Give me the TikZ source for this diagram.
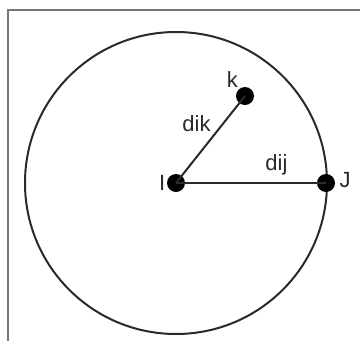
\documentclass[tikz,border=0pt]{standalone}
\usepackage{fontspec}
\setmainfont{Liberation Sans}
\usepackage{tikz}
\usetikzlibrary{positioning}
\definecolor{framegray}{HTML}{777777}
\definecolor{inkgray}{HTML}{2A2A2A}

\begin{document}
\begin{tikzpicture}[
x=1pt, y=-1pt,
every node/.style={font=\fontsize{22}{26}\selectfont, text=inkgray},
dot/.style={circle, fill=black, inner sep=0pt, minimum size=18pt},
link/.style={draw=inkgray, line width=2pt}
]
\useasboundingbox (0,0) rectangle (360,341);

% Frame and circle
\draw [framegray, line width=2.2pt] (8,341) -- (8,10) -- (360,10);
\draw [inkgray, line width=2pt] (176,183) circle (151);

% Nodes
\node (ni) [dot] at (176,183) {};
\node (nj) [dot] at (326,183) {};
\node (nk) [dot] at (245,96) {};

\node (li) [left=-2pt of ni] {I};
\node (lj) [right=1pt of nj, yshift=3pt] {J};
\node (lk) [above left=-2pt and -3pt of nk] {k};

% Arrows
\draw [link] (ni.center) -- (nj.center) node [pos=0.67, above=4pt] {dij};
\draw [link] (ni.center) -- (nk.center) node [pos=0.68, left=8pt] {dik};

\end{tikzpicture}
\end{document}
